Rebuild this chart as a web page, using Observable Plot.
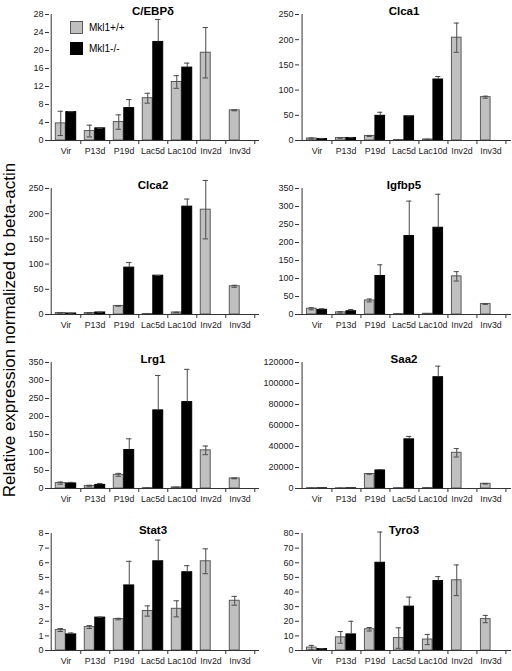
<!DOCTYPE html>
<html><head><meta charset="utf-8">
<script src="https://cdn.jsdelivr.net/npm/d3@7"></script>
<script src="https://cdn.jsdelivr.net/npm/@observablehq/plot@0.6"></script>
<style>
html,body{margin:0;padding:0;background:#fff;overflow:hidden}
#root{position:relative;width:512px;height:671px;font-family:"Liberation Sans",Arial,sans-serif}
.panel{position:absolute}
.legend{position:absolute;font-size:10px;color:#000;display:flex;align-items:center}
.sw{display:inline-block;width:12px;height:12px;margin-right:6px;box-sizing:border-box}
</style></head><body><div id="root"></div>
<script>
const categories = ["Vir","P13d","P19d","Lac5d","Lac10d","Inv2d","Inv3d"];
const seriesNames = ["Mkl1+/+","Mkl1-/-"];
const yAxisTitle = "Relative expression normalized to beta-actin";

const cebpdWt    = [3.8, 2.1, 4.1, 9.4, 13.0, 19.5, 6.7];
const cebpdWtErr = [2.7, 1.3, 1.6, 1.1, 1.4, 5.6, 0.1];
const cebpdKo    = [6.3, 2.7, 7.2, 21.9, 16.2, null, null];
const cebpdKoErr = [0.1, 0, 1.9, 5.0, 1.0, null, null];
const cebpdTicks = [0, 4, 8, 12, 16, 20, 24, 28];

const clca1Wt    = [4, 5, 9, 1, 2, 204, 86];
const clca1WtErr = [1, 0.5, 1, 0.3, 0.5, 29, 2];
const clca1Ko    = [3, 5, 49, 48, 121, null, null];
const clca1KoErr = [0.5, 0.5, 7, 1, 6, null, null];
const clca1Ticks = [0, 50, 100, 150, 200, 250];

const clca2Wt    = [3, 3, 17, 1, 4, 208, 56];
const clca2WtErr = [0.5, 0.5, 0.5, 0.2, 0.5, 58, 2];
const clca2Ko    = [2, 4, 93, 77, 214, null, null];
const clca2KoErr = [0.3, 0.5, 10, 0.5, 15, null, null];
const clca2Ticks = [0, 50, 100, 150, 200, 250];

const igfbp5Wt    = [16, 6, 39, 1, 2, 106, 29];
const igfbp5WtErr = [3, 2, 4, 0.2, 0.5, 13, 1];
const igfbp5Ko    = [13, 9, 107, 218, 241, null, null];
const igfbp5KoErr = [3, 5, 31, 97, 93, null, null];
const igfbp5Ticks = [0, 50, 100, 150, 200, 250, 300, 350];

const lrg1Wt    = [15, 7, 38, 1, 3, 106, 28];
const lrg1WtErr = [3, 2, 4, 0.2, 0.5, 12, 1];
const lrg1Ko    = [14, 10, 107, 217, 240, null, null];
const lrg1KoErr = [3, 4, 31, 97, 91, null, null];
const lrg1Ticks = [0, 50, 100, 150, 200, 250, 300, 350];

const saa2Wt    = [300, 200, 13800, 300, 400, 34000, 4500];
const saa2WtErr = [50, 50, 300, 50, 50, 4000, 300];
const saa2Ko    = [200, 200, 17200, 46800, 106000, null, null];
const saa2KoErr = [50, 50, 800, 2800, 10500, null, null];
const saa2Ticks = [0, 20000, 40000, 60000, 80000, 100000, 120000];

const stat3Wt    = [1.4, 1.6, 2.15, 2.7, 2.85, 6.1, 3.4];
const stat3WtErr = [0.1, 0.1, 0.05, 0.35, 0.55, 0.85, 0.3];
const stat3Ko    = [1.1, 2.25, 4.45, 6.1, 5.35, null, null];
const stat3KoErr = [0.1, 0.03, 1.65, 1.45, 0.45, null, null];
const stat3Ticks = [0, 1, 2, 3, 4, 5, 6, 7, 8];

const tyro3Wt    = [2, 9, 14.5, 8.5, 7.5, 48, 21.5];
const tyro3WtErr = [1.5, 4, 1.2, 7, 3.5, 10.5, 2.5];
const tyro3Ko    = [1, 11, 60, 30, 47.5, null, null];
const tyro3KoErr = [0.2, 9, 21, 6.5, 3, null, null];
const tyro3Ticks = [0, 10, 20, 30, 40, 50, 60, 70, 80];

const panels = [
  {title: "C/EBPδ", wt: cebpdWt, wtErr: cebpdWtErr, ko: cebpdKo, koErr: cebpdKoErr, ticks: cebpdTicks},
  {title: "Clca1", wt: clca1Wt, wtErr: clca1WtErr, ko: clca1Ko, koErr: clca1KoErr, ticks: clca1Ticks},
  {title: "Clca2", wt: clca2Wt, wtErr: clca2WtErr, ko: clca2Ko, koErr: clca2KoErr, ticks: clca2Ticks},
  {title: "Igfbp5", wt: igfbp5Wt, wtErr: igfbp5WtErr, ko: igfbp5Ko, koErr: igfbp5KoErr, ticks: igfbp5Ticks},
  {title: "Lrg1", wt: lrg1Wt, wtErr: lrg1WtErr, ko: lrg1Ko, koErr: lrg1KoErr, ticks: lrg1Ticks},
  {title: "Saa2", wt: saa2Wt, wtErr: saa2WtErr, ko: saa2Ko, koErr: saa2KoErr, ticks: saa2Ticks},
  {title: "Stat3", wt: stat3Wt, wtErr: stat3WtErr, ko: stat3Ko, koErr: stat3KoErr, ticks: stat3Ticks},
  {title: "Tyro3", wt: tyro3Wt, wtErr: tyro3WtErr, ko: tyro3Ko, koErr: tyro3KoErr, ticks: tyro3Ticks}
];

const root = document.getElementById("root");
const GRAY = "#c0c0c0", GRAYSTROKE = "#5a5a5a", ERR = "#4a4a4a", AXIS = "#333";
const rowPlotTop = [14, 188, 362, 533];
const rowPlotH = [126, 126, 126, 117];
const mTop = 16, mBottom = 16;

panels.forEach((p, i) => {
  const col = i % 2, row = Math.floor(i / 2);
  const left = col === 0 ? 0 : 256;
  const width = 256;
  const ml = col === 0 ? 49 : 43;
  const mr = col === 0 ? 0 : 4;
  const plotH = rowPlotH[row];
  const step = (width - ml - mr) / categories.length;
  const half = step / 2;
  const bw = 10.5;
  const off = (step - 2 * bw) / 2;
  const capHalf = 3;
  const rows = categories.map((c, k) => ({cat: c, wt: p.wt[k], wtErr: p.wtErr[k], ko: p.ko[k], koErr: p.koErr[k]}));
  const wtRows = rows.filter(d => d.wt != null);
  const koRows = rows.filter(d => d.ko != null);
  const wtC = -half + off + bw / 2;
  const koC = -half + off + bw * 1.5;
  const yMax = p.ticks[p.ticks.length - 1];
  const chart = Plot.plot({
    width, height: mTop + plotH + mBottom,
    marginLeft: ml, marginRight: mr, marginTop: mTop, marginBottom: mBottom,
    style: {fontFamily: "'Liberation Sans', Arial, sans-serif", background: "transparent", overflow: "visible"},
    x: {domain: categories, padding: 0, axis: null},
    y: {domain: [0, yMax], axis: null},
    marks: [
      Plot.barY(wtRows, {x: "cat", y: "wt", fill: GRAY, stroke: GRAYSTROKE, strokeWidth: 1,
        insetLeft: off, insetRight: step - off - bw}),
      Plot.barY(koRows, {x: "cat", y: "ko", fill: "#000", stroke: "#000", strokeWidth: 1,
        insetLeft: off + bw, insetRight: off}),
      Plot.ruleX(wtRows, {x: "cat", y1: d => d.wt - d.wtErr, y2: d => d.wt + d.wtErr, dx: wtC, stroke: ERR, strokeWidth: 1}),
      Plot.tickY(wtRows, {x: "cat", y: d => d.wt + d.wtErr, stroke: ERR, insetLeft: half + wtC - capHalf, insetRight: half - wtC - capHalf}),
      Plot.tickY(wtRows, {x: "cat", y: d => d.wt - d.wtErr, stroke: ERR, insetLeft: half + wtC - capHalf, insetRight: half - wtC - capHalf}),
      Plot.ruleX(koRows, {x: "cat", y1: "ko", y2: d => d.ko + d.koErr, dx: koC, stroke: ERR, strokeWidth: 1}),
      Plot.tickY(koRows, {x: "cat", y: d => d.ko + d.koErr, stroke: ERR, insetLeft: half + koC - capHalf, insetRight: half - koC - capHalf}),
      Plot.ruleY([0], {stroke: AXIS, insetRight: -3}),
      Plot.ruleX([categories[0]], {dx: -half, stroke: AXIS}),
      Plot.axisY({ticks: p.ticks, tickSize: 4, tickPadding: 2, fontSize: 9, label: null, stroke: AXIS, fill: "#222", tickFormat: d => String(d)}),
      Plot.axisX({tickSize: 4, tickFormat: () => "", dx: half, label: null, stroke: AXIS}),
      Plot.axisX({tickSize: 0, tickPadding: 7, fontSize: 8.8, label: null, fill: "#222"}),
      Plot.text([p.title], {text: d => d, frameAnchor: "top", dy: -8, fontWeight: "bold", fontSize: 11.5, fill: "#000"})
    ]
  });
  chart.classList.add("panel");
  chart.style.left = left + "px";
  chart.style.top = (rowPlotTop[row] - mTop) + "px";
  root.appendChild(chart);
});

const colors = [GRAY, "#000"];
seriesNames.forEach((name, k) => {
  const item = document.createElement("div");
  item.className = "legend";
  item.style.left = "70px";
  item.style.top = (21 + k * 21) + "px";
  const sw = document.createElement("span");
  sw.className = "sw";
  sw.style.background = colors[k];
  sw.style.border = "1px solid " + (k === 0 ? GRAYSTROKE : "#000");
  sw.style.width = "13px"; sw.style.height = "13px";
  item.appendChild(sw);
  item.appendChild(document.createTextNode(name));
  root.appendChild(item);
});

const ns = "http://www.w3.org/2000/svg";
const ysvg = document.createElementNS(ns, "svg");
ysvg.setAttribute("width", 24); ysvg.setAttribute("height", 671);
ysvg.style.position = "absolute"; ysvg.style.left = "0px"; ysvg.style.top = "0px";
const yt = document.createElementNS(ns, "text");
yt.setAttribute("transform", "translate(15,330) rotate(-90)");
yt.setAttribute("text-anchor", "middle");
yt.setAttribute("font-size", "17");
yt.setAttribute("font-family", "'Liberation Sans', Arial, sans-serif");
yt.textContent = yAxisTitle;
ysvg.appendChild(yt);
root.appendChild(ysvg);
</script></body></html>
